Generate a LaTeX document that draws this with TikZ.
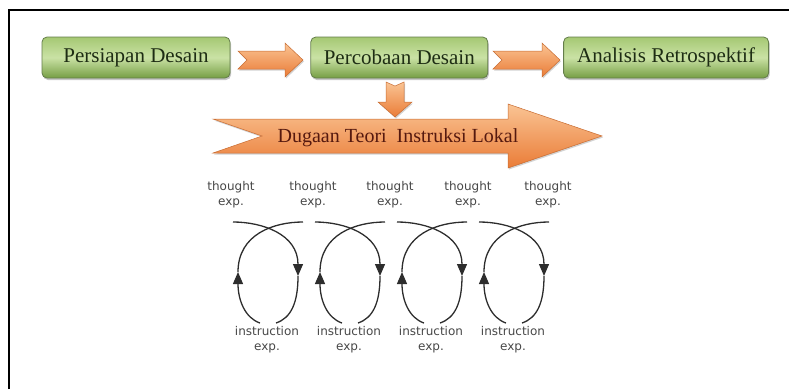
\documentclass[tikz,border=0pt]{standalone}
\usepackage{fontspec}
\setmainfont{Liberation Serif}
\newfontfamily\stagefont{Liberation Serif}
\newfontfamily\labelfont{DejaVu Sans}
\usepackage{tikz}
\usetikzlibrary{arrows.meta, positioning, shadows}

\definecolor{boxtop}{RGB}{165,200,115}
\definecolor{boxmid}{RGB}{202,226,165}
\definecolor{boxbot}{RGB}{118,158,68}
\definecolor{boxline}{RGB}{100,125,75}
\definecolor{boxtext}{RGB}{30,45,20}
\definecolor{orgtop}{RGB}{250,196,148}
\definecolor{orgbot}{RGB}{234,124,55}
\definecolor{orgline}{RGB}{200,108,50}
\definecolor{arrtext}{RGB}{85,25,15}
\definecolor{loopgray}{RGB}{45,45,45}

% notched block arrow: tail x, tip x, centre y, shaft half, head half, head x, notch
\newcommand{\notcharrow}[7]{%
  \shade[blockarr] (#1,#3-#4) -- (#6,#3-#4) -- (#6,#3-#5) -- (#2,#3)
    -- (#6,#3+#5) -- (#6,#3+#4) -- (#1,#3+#4) -- (#1+#7,#3) -- cycle;}

\begin{document}
\begin{tikzpicture}[
    x=1pt, y=-1pt,
    stage/.style={draw=boxline, line width=0.8pt, rounded corners=5pt,
      top color=boxtop, bottom color=boxbot, middle color=boxmid,
      minimum height=41pt, inner sep=0pt, text=boxtext,
      font=\stagefont\fontsize{21}{24}\selectfont,
      drop shadow={shadow xshift=1pt, shadow yshift=-2pt, opacity=0.45}},
    blockarr/.style={top color=orgtop, bottom color=orgbot, draw=orgline, line width=0.5pt,
      drop shadow={shadow xshift=1pt, shadow yshift=-1.5pt, opacity=0.35}},
    lbl/.style={font=\labelfont\fontsize{12}{15}\selectfont, text=black!72,
      align=center, inner sep=0pt},
    loopline/.style={loopgray, line width=1.3pt},
    looptip/.style={-{Triangle[length=12pt, width=10pt]}}]
  \useasboundingbox (0,0) rectangle (789,389);
  \draw[line width=1.6pt] (9,389) -- (9,10) -- (789,10);

  % the three stages
  \node[stage, minimum width=188pt] (prep) at (136,57.5) {Persiapan Desain};
  \node[stage, minimum width=177pt, right=80pt of prep] (trial) {Percobaan Desain};
  \node[stage, minimum width=205pt, right=75pt of trial] (retro) {Analisis Retrospektif};
  \notcharrow{238}{303}{60}{9}{17}{285}{9}
  \notcharrow{493}{560}{60}{9}{17}{542}{9}

  % local instruction theory
  \notcharrow{213}{602}{136}{17}{32}{508}{49}
  \node[font=\stagefont\fontsize{20}{24}\selectfont, text=arrtext] (lit) at (398,138)
    {Dugaan Teori\ \ Instruksi Lokal};
  \shade[blockarr] (386,82) -- (395,86) -- (404,82) -- (404,102) -- (412,102)
    -- (395,117) -- (378,102) -- (386,102) -- cycle;

  % thought / instruction cycles
  \foreach \x [count=\n] in {231,313,390,468,548}
    \node[lbl] (thought\n) at (\x,195) {thought\\exp.};
  \foreach \n in {0,...,3}{
    \node[lbl] (instr\n) at (267+82*\n,340) {instruction\\exp.};
    \begin{scope}[xshift=82*\n]
      \draw[loopline, looptip] (233,222) .. controls (262,222) and (298,234) .. (298,276);
      \draw[loopline] (298,276) .. controls (298,303) and (291,318) .. (276,323);
      \draw[loopline, looptip] (260,323) .. controls (245,318) and (238,300) .. (238,272);
      \draw[loopline] (238,272) .. controls (238,234) and (274,222) .. (303,222);
    \end{scope}
  }
\end{tikzpicture}
\end{document}
